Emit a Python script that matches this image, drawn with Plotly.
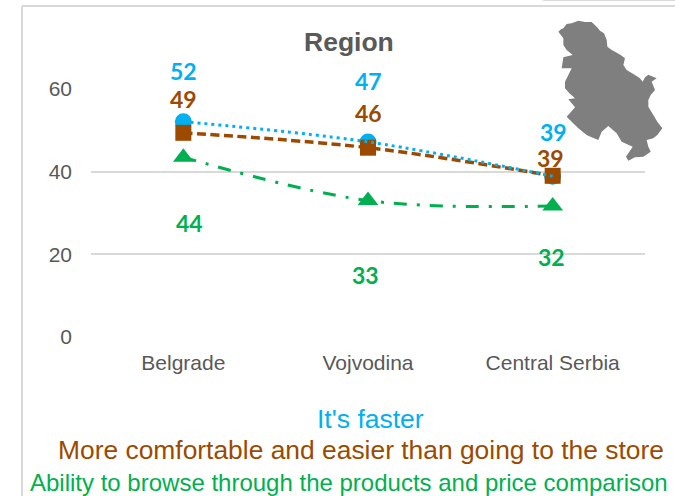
import plotly.graph_objects as go

categories = ["Belgrade", "Vojvodina", "Central Serbia"]
faster = [52.1, 47.2, 38.9]
comfortable = [49.4, 45.8, 39.0]
browse = [43.5, 33.0, 31.7]
faster_labels = ["52", "47", "39"]
comfortable_labels = ["49", "46", "39"]
browse_labels = ["44", "33", "32"]

BLUE, BROWN, GREEN = "#00B0F0", "#9C4A00", "#00B050"
W, H = 675, 496
px = lambda x: x / W
py = lambda y: 1 - y / H

fig = go.Figure()
mk = dict(line=dict(width=0))
fig.add_trace(go.Scatter(x=categories, y=faster, mode="markers",
                         marker=dict(symbol="circle", size=17, color=BLUE, **mk)))
fig.add_trace(go.Scatter(x=categories, y=browse, mode="lines+markers",
                         line=dict(color=GREEN, width=3, shape="spline", smoothing=1, dash="13px,10px,3px,10px"),
                         marker=dict(symbol="triangle-up", size=18, color=GREEN, **mk)))
fig.add_trace(go.Scatter(x=categories, y=comfortable, mode="lines+markers",
                         line=dict(color=BROWN, width=3.5, shape="spline", smoothing=1, dash="9px,4.5px"),
                         marker=dict(symbol="square", size=16, color=BROWN, **mk)))
fig.add_trace(go.Scatter(x=categories, y=faster, mode="lines",
                         line=dict(color=BLUE, width=3, shape="spline", smoothing=1, dash="3px,4px")))

# map outline: outer silhouette in reference pixels (decoration, not data)
z = [(175,95),(183,88),(190,85),(200,72),(215,70),(235,62),(255,66),(275,66),(290,80),(300,92),(312,100),(320,120),
     (322,140),(335,150),(345,155),(362,165),(375,175),(370,195),(380,210),(400,222),(420,235),(428,245),
     (435,232),(445,224),(470,235),(455,245),(465,270),(452,285),(445,300),(445,320),(460,345),(472,365),(487,385),
     (472,405),(460,415),(440,420),(445,440),(452,455),(430,470),(405,472),(385,482),(378,470),
     (398,440),(365,425),(350,400),(325,378),(305,395),(295,420),(275,412),(260,405),(235,385),(215,365),(200,350),(225,322),
     (205,298),(225,295),(208,280),(195,265),(195,245),(205,225),(215,205),(185,205),(190,172),(218,165),(200,150),(190,135),(190,115)]
path = "M " + " L ".join(f"{px(500 + a / 3):.4f},{py(b / 3):.4f}" for a, b in z) + " Z"

def rule(x0, y0, x1, y1):
    return dict(type="line", xref="paper", yref="paper", x0=px(x0), y0=py(y0), x1=px(x1), y1=py(y1),
                line=dict(color="#D9D9D9", width=2), layer="below")

shapes = [
    rule(22, 6, 22, 496), rule(22, 6, 675, 6), rule(543, 0, 675, 0),
    dict(type="rect", xref="paper", yref="paper", x0=px(563), x1=px(675), y0=py(160), y1=py(20),
         fillcolor="white", line=dict(width=0), layer="above"),
    dict(type="path", xref="paper", yref="paper", path=path, fillcolor="#7F7F7F", line=dict(width=0), layer="above"),
]

annotations = []
def data_labels(vals, labels, color, xshifts, yshifts):
    for c, v, t, xs, ys in zip(categories, vals, labels, xshifts, yshifts):
        annotations.append(dict(x=c, y=v, text=f"<b>{t}</b>", showarrow=False, xshift=xs, yshift=ys,
                                font=dict(family="Lato", size=23, color=color)))
data_labels(faster, faster_labels, BLUE, [0, 0, 1], [51, 61, 44])
data_labels(comfortable, comfortable_labels, BROWN, [0, 0, -2], [34, 35, 18])
data_labels(browse, browse_labels, GREEN, [6, -3, -1], [-66, -74, -51])

def free_text(text, cx, cy, size, color, bold=False):
    annotations.append(dict(xref="paper", yref="paper", x=px(cx), y=py(cy), text=f"<b>{text}</b>" if bold else text,
                            showarrow=False, xanchor="center", yanchor="middle",
                            font=dict(family="Liberation Sans", size=size, color=color)))
free_text("Region", 349, 42, 26.5, "#595959", True)
free_text("It's faster", 371, 419, 26.5, BLUE)
free_text("More comfortable and easier than going to the store", 361, 450, 26.4, BROWN)
free_text("Ability to browse through the products and price comparison", 349, 482, 24, GREEN)

fig.update_layout(
    width=W, height=H, margin=dict(l=0, r=0, t=0, b=0), showlegend=False,
    paper_bgcolor="white", plot_bgcolor="white", shapes=shapes, annotations=annotations,
    xaxis=dict(domain=[px(91), px(645)], type="category", range=[-0.5, 2.5], showgrid=False, zeroline=False,
               showline=False, ticks="", ticklabelstandoff=11, automargin=False,
               tickfont=dict(family="Liberation Sans", size=21, color="#595959")),
    yaxis=dict(domain=[py(337), py(89)], range=[0, 60], tickvals=[0, 20, 40, 60], showgrid=True, automargin=False,
               gridcolor="#D9D9D9", gridwidth=2, zeroline=False, showline=False, ticks="", ticklabelstandoff=18,
               tickfont=dict(family="Liberation Sans", size=21, color="#595959")),
)
fig.write_html("out.html", config=dict(displayModeBar=False), post_script="document.body.style.margin='0';")
